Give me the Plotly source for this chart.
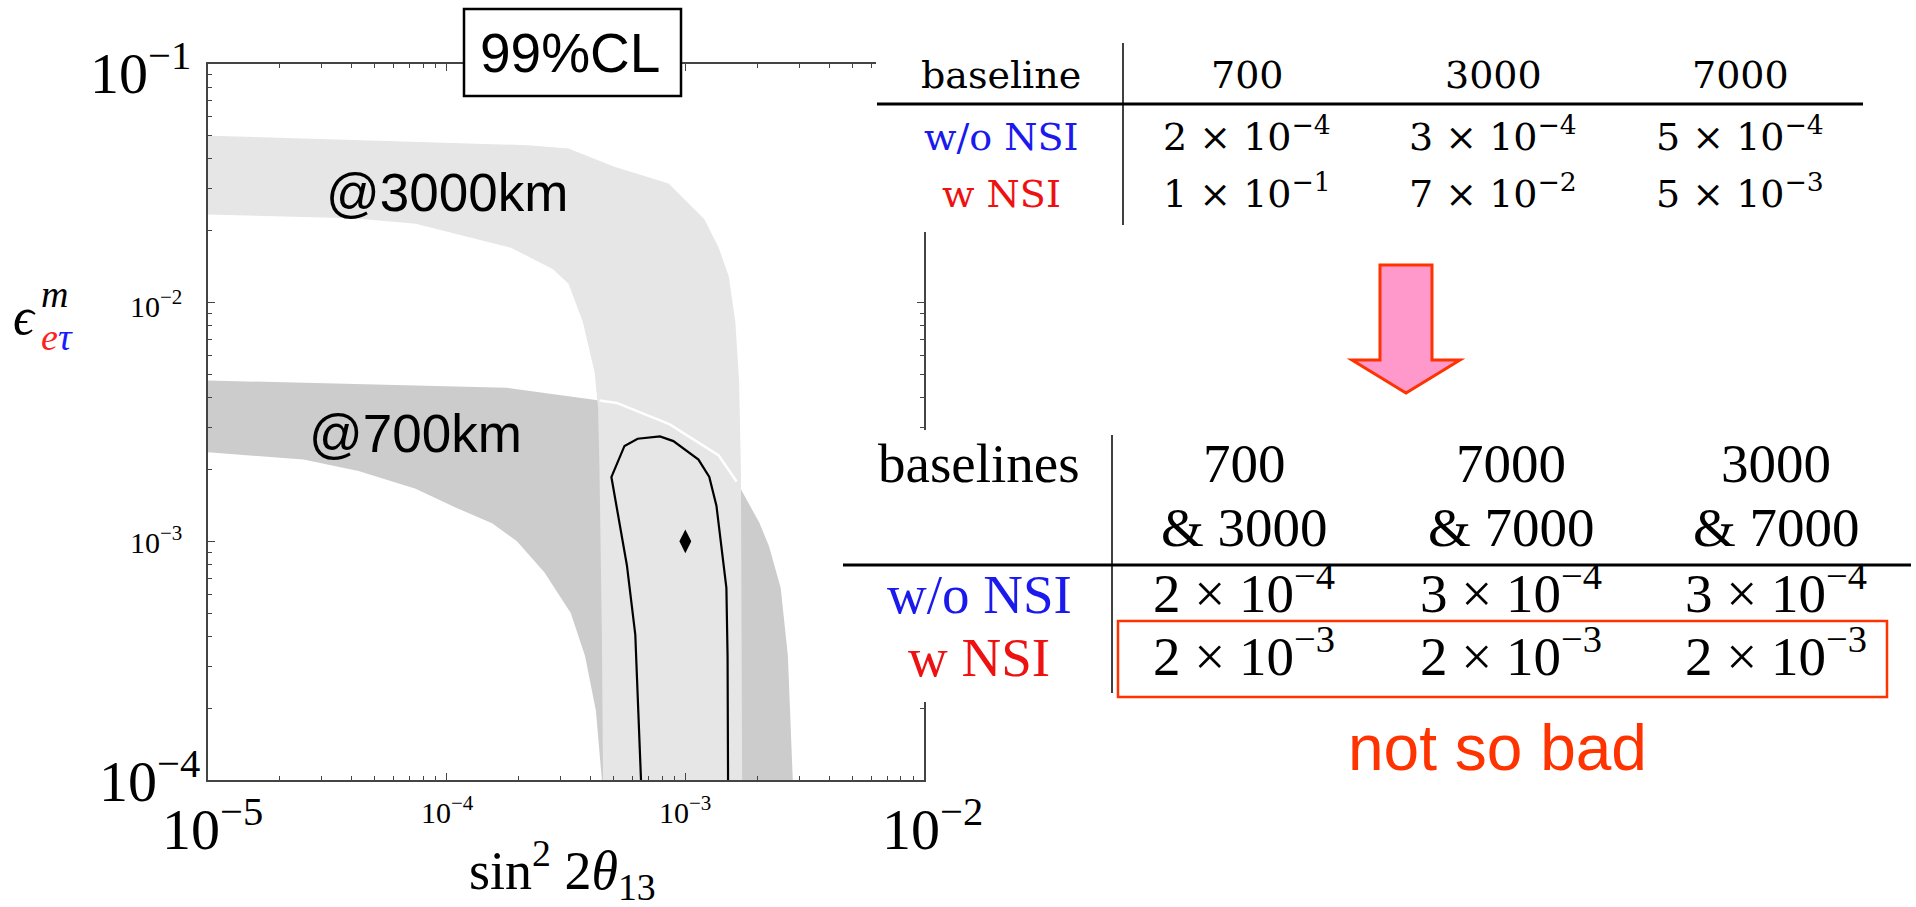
import plotly.graph_objects as go
import numpy as np

# ---------------- data ----------------
# 3000 km band (light grey): outer (upper/right) and inner (lower/left) boundaries
b3000_up_x = [1e-5, 2.19e-4, 3.24e-4, 5.01e-4, 8.51e-4, 1.20e-3, 1.38e-3, 1.52e-3, 1.62e-3, 1.68e-3, 1.71e-3, 1.73e-3]
b3000_up_y = [0.0501, 0.0457, 0.0443, 0.0372, 0.0316, 0.0224, 0.0170, 0.0129, 0.0083, 0.0047, 0.00195, 1e-4]
b3000_lo_x = [1e-5, 4.07e-5, 7.41e-5, 1.86e-4, 2.79e-4, 3.24e-4, 3.72e-4, 4.17e-4, 4.31e-4, 4.37e-4, 4.47e-4, 4.52e-4]
b3000_lo_y = [0.0234, 0.0226, 0.0214, 0.0170, 0.0138, 0.0120, 0.0083, 0.0051, 0.0036, 0.00195, 0.00041, 1e-4]

# 700 km band (darker grey)
b700_up_x = [1e-5, 1.78e-4, 4.37e-4, 5.16e-4, 8.61e-4, 1.38e-3, 1.64e-3, 2.04e-3, 2.24e-3, 2.51e-3, 2.69e-3, 2.82e-3]
b700_up_y = [4.72e-3, 4.40e-3, 3.89e-3, 3.80e-3, 3.09e-3, 2.29e-3, 1.78e-3, 1.20e-3, 9.55e-4, 6.38e-4, 3.31e-4, 1e-4]
b700_lo_x = [1e-5, 2.51e-5, 4.27e-5, 7.41e-5, 1.10e-4, 1.55e-4, 1.97e-4, 2.57e-4, 3.31e-4, 3.80e-4, 4.22e-4, 4.47e-4]
b700_lo_y = [2.36e-3, 2.20e-3, 1.97e-3, 1.66e-3, 1.38e-3, 1.19e-3, 1.0e-3, 7.41e-4, 5.01e-4, 3.31e-4, 1.95e-4, 1e-4]

# combined contour (black line)
cont_x = [6.52e-4, 6.17e-4, 5.69e-4, 5.25e-4, 4.90e-4, 5.56e-4, 6.31e-4, 7.83e-4, 8.91e-4,
          1.135e-3, 1.26e-3, 1.35e-3, 1.41e-3, 1.486e-3, 1.503e-3, 1.51e-3]
cont_y = [1e-4, 4.07e-4, 7.94e-4, 1.24e-3, 1.86e-3, 2.51e-3, 2.69e-3, 2.75e-3, 2.63e-3,
          2.20e-3, 1.86e-3, 1.41e-3, 1.0e-3, 6.38e-4, 3.31e-4, 1e-4]

true_x = [1e-3]
true_y = [1e-3]

x_decades = [1e-5, 1e-4, 1e-3, 1e-2]
y_decades = [1e-4, 1e-3, 1e-2, 1e-1]

# tables
top_header = ["baseline", "700", "3000", "7000"]
top_rows = ["w/o NSI", "w NSI"]
top_wo = [(2, 4), (3, 4), (5, 4)]
top_w = [(1, 1), (7, 2), (5, 3)]

bot_header1 = ["baselines", "700", "7000", "3000"]
bot_header2 = ["", "& 3000", "& 7000", "& 7000"]
bot_wo = [(2, 4), (3, 4), (3, 4)]
bot_w = [(2, 3), (2, 3), (2, 3)]

# ---------------- layout helpers ----------------
W, H = 1916, 907
L, R, T, B = 208, 924, 64, 780


def px(X):
    return (X - L) / (R - L)


def py(Y):
    return (B - Y) / (B - T)


def sci(m, e):
    return f"{m} × 10<sup>−{e}</sup>"


fig = go.Figure()

fig.add_trace(go.Scatter(x=b700_up_x + b700_lo_x[::-1], y=b700_up_y + b700_lo_y[::-1],
                         fill="toself", fillcolor="#cccccc", mode="lines",
                         line=dict(width=0, color="#cccccc"), hoverinfo="skip"))
fig.add_trace(go.Scatter(x=b3000_up_x + b3000_lo_x[::-1], y=b3000_up_y + b3000_lo_y[::-1],
                         fill="toself", fillcolor="#e6e6e6", mode="lines",
                         line=dict(width=0, color="#e6e6e6"), hoverinfo="skip"))
# white edge of the 700 km band where it crosses the 3000 km band
wx = np.array(b700_up_x)
wy = np.array(b700_up_y)
mask = (wx >= 4.3e-4) & (wx <= 1.7e-3)
fig.add_trace(go.Scatter(x=wx[mask], y=wy[mask], mode="lines",
                         line=dict(color="white", width=2.5), hoverinfo="skip"))
fig.add_trace(go.Scatter(x=cont_x, y=cont_y, mode="lines",
                         line=dict(color="black", width=2.2), hoverinfo="skip"))
fig.add_trace(go.Scatter(x=true_x, y=true_y, mode="markers",
                         marker=dict(symbol="diamond-tall", size=17, color="black"),
                         hoverinfo="skip"))

minor_x = [m * d for d in [1e-5, 1e-4, 1e-3] for m in range(2, 10)]
minor_y = [m * d for d in [1e-4, 1e-3, 1e-2] for m in range(2, 10)]

axis_common = dict(type="log", showline=True, linecolor="#444444", linewidth=1.5,
                   mirror="allticks", ticks="inside", ticklen=7, tickcolor="#444444",
                   showticklabels=False, showgrid=False, zeroline=False)
fig.update_xaxes(range=[-5, -2], tickvals=x_decades,
                 minor=dict(ticks="inside", ticklen=4, tickvals=minor_x, tickcolor="#444444", showgrid=False),
                 **axis_common)
fig.update_yaxes(range=[-4, -1], tickvals=y_decades,
                 minor=dict(ticks="inside", ticklen=4, tickvals=minor_y, tickcolor="#444444", showgrid=False),
                 **axis_common)

shapes = []
annots = []


def ann(text, X, Y, size, color="black", family="Liberation Serif", xanchor="center", yanchor="middle"):
    annots.append(dict(text=text, x=px(X), y=py(Y), xref="paper", yref="paper",
                       xanchor=xanchor, yanchor=yanchor, showarrow=False,
                       font=dict(size=size, color=color, family=family)))


def rect(X0, Y0, X1, Y1, fill="white", line_color=None, lw=0):
    shapes.append(dict(type="rect", xref="paper", yref="paper", x0=px(X0), x1=px(X1),
                       y0=py(Y1), y1=py(Y0), fillcolor=fill, layer="above",
                       line=dict(width=lw, color=line_color or fill)))


def hline(X0, X1, Y, lw, color="black"):
    shapes.append(dict(type="line", xref="paper", yref="paper", x0=px(X0), x1=px(X1),
                       y0=py(Y), y1=py(Y), layer="above", line=dict(width=lw, color=color)))


def vline(X, Y0, Y1, lw, color="black"):
    shapes.append(dict(type="line", xref="paper", yref="paper", x0=px(X), x1=px(X),
                       y0=py(Y0), y1=py(Y1), layer="above", line=dict(width=lw, color=color)))


# white table backgrounds (they hide part of the frame)
rect(876, 0, 1916, 232)
rect(843, 430, 1916, 702)

# 99%CL box
rect(464, 9, 681, 96, fill="white", line_color="black", lw=2.5)
ann("99%CL", 570, 53, 55, family="Liberation Sans")

# band labels
ann("@3000km", 447, 192, 53, family="Liberation Sans")
ann("@700km", 415, 433, 53, family="Liberation Sans")

# tick labels
ann("10<sup>−1</sup>", 193, 70, 58, xanchor="right")
ann("10<sup>−4</sup>", 202, 777, 58, xanchor="right")
ann("10<sup>−5</sup>", 212, 826, 58)
ann("10<sup>−2</sup>", 932, 826, 58)
ann("10<sup>−2</sup>", 184, 304, 30, xanchor="right")
ann("10<sup>−3</sup>", 184, 540, 30, xanchor="right")
ann("10<sup>−4</sup>", 447, 810, 30)
ann("10<sup>−3</sup>", 685, 810, 30)

# axis titles
ann("sin<sup>2</sup> 2<i>θ</i><sub>13</sub>", 562, 870, 54)
ann("<i>ϵ</i>", 24, 316, 52)
ann("<i>m</i>", 54, 294, 38)
ann("<i><span style='color:#ff2020'>e</span><span style='color:#1a1aff'>τ</span></i>", 57, 337, 38)

# ---- top table ----
TF = "DejaVu Serif"
TS = 38
top_cols = [1001, 1247, 1493, 1740]
for i, h in enumerate(top_header):
    ann(h, top_cols[i], 75, TS, family=TF)
hline(877, 1863, 104, 3)
vline(1123, 43, 225, 1.5)
ann(top_rows[0], top_cols[0], 137, TS, color="#1a1aee", family=TF)
ann(top_rows[1], top_cols[0], 194, TS, color="#ee1111", family=TF)
for i in range(3):
    ann(sci(*top_wo[i]), top_cols[i + 1], 134, TS, family=TF)
    ann(sci(*top_w[i]), top_cols[i + 1], 191, TS, family=TF)

# ---- arrow ----
arrow_pts = [(1380, 265), (1432, 265), (1432, 360), (1460, 360), (1406, 393), (1352, 360), (1380, 360)]
path = "M " + " L ".join(f"{px(a):.5f},{py(b):.5f}" for a, b in arrow_pts) + " Z"
shapes.append(dict(type="path", xref="paper", yref="paper", path=path, layer="above",
                   fillcolor="#ff99cc", line=dict(color="#ff3300", width=3)))

# ---- bottom table ----
BF = "Liberation Serif"
BS = 55
bot_cols = [979, 1244, 1511, 1776]
for i in range(4):
    ann(bot_header1[i], bot_cols[i], 463, BS, family=BF)
    if bot_header2[i]:
        ann(bot_header2[i], bot_cols[i], 527, BS, family=BF)
hline(843, 1911, 565, 3)
vline(1112, 435, 693, 1.5)
ann(top_rows[0], bot_cols[0], 594, BS, color="#1a1aee", family=BF)
ann(top_rows[1], bot_cols[0], 657, BS, color="#ee1111", family=BF)
for i in range(3):
    ann(sci(*bot_wo[i]), bot_cols[i + 1], 589, BS, family=BF)
    ann(sci(*bot_w[i]), bot_cols[i + 1], 652, BS, family=BF)
rect(1118, 621, 1887, 697, fill="rgba(0,0,0,0)", line_color="#ff3300", lw=2.5)

ann("not so bad", 1497, 748, 64, color="#ff3300", family="Liberation Sans")

fig.update_layout(width=W, height=H, margin=dict(l=L, r=W - R, t=T, b=H - B, pad=0),
                  plot_bgcolor="white", paper_bgcolor="white", showlegend=False,
                  shapes=shapes, annotations=annots)

fig.write_html("out.html")
